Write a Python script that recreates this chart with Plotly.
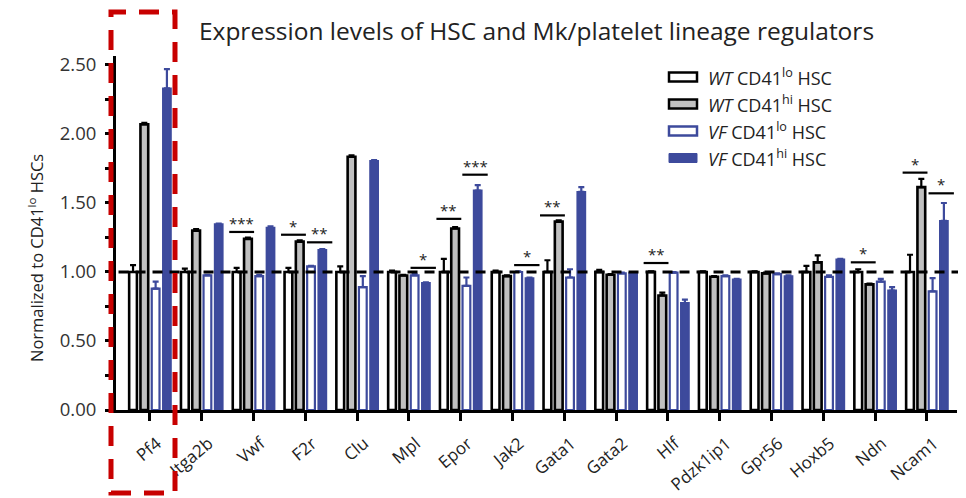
import plotly.graph_objects as go

# ---------------- data ----------------
genes = ["Pf4", "Itga2b", "Vwf", "F2r", "Clu", "Mpl", "Epor", "Jak2", "Gata1",
         "Gata2", "Hlf", "Pdzk1ip1", "Gpr56", "Hoxb5", "Ndn", "Ncam1"]

wt_lo = [1.00, 1.00, 1.00, 1.00, 1.00, 1.00, 1.00, 1.00, 1.00, 1.00, 1.00, 1.00, 1.00, 1.00, 1.00, 1.00]
wt_lo_err = [0.05, 0.025, 0.03, 0.03, 0.04, 0.01, 0.095, 0.01, 0.085, 0.015, 0.005, 0.005, 0.005, 0.045, 0.02, 0.125]

wt_hi = [2.07, 1.30, 1.24, 1.22, 1.835, 0.975, 1.315, 0.97, 1.365, 0.98, 0.83, 0.965, 0.99, 1.07, 0.91, 1.615]
wt_hi_err = [0.01, 0.01, 0.01, 0.01, 0.01, 0.005, 0.01, 0.005, 0.01, 0.005, 0.02, 0.005, 0.005, 0.05, 0.005, 0.06]

vf_lo = [0.88, 0.975, 0.97, 1.04, 0.89, 0.975, 0.90, 1.00, 0.96, 0.99, 0.995, 0.97, 0.985, 0.965, 0.93, 0.86]
vf_lo_err = [0.05, 0.005, 0.01, 0.005, 0.08, 0.01, 0.06, 0.005, 0.06, 0.005, 0.005, 0.005, 0.005, 0.01, 0.02, 0.095]

vf_hi = [2.33, 1.345, 1.32, 1.16, 1.805, 0.92, 1.59, 0.955, 1.58, 0.99, 0.775, 0.945, 0.97, 1.09, 0.865, 1.37]
vf_hi_err = [0.14, 0.005, 0.01, 0.005, 0.005, 0.005, 0.04, 0.005, 0.035, 0.005, 0.025, 0.005, 0.005, 0.005, 0.025, 0.13]

# significance brackets: (gene, pair, level, label)
sig_genes = ["Vwf", "F2r", "F2r", "Mpl", "Epor", "Epor", "Jak2", "Gata1", "Hlf", "Ndn", "Ncam1", "Ncam1"]
sig_pairs = ["WT", "WT", "VF", "VF", "WT", "VF", "VF", "WT", "WT", "WT", "WT", "VF"]
sig_levels = [1.29, 1.27, 1.215, 1.03, 1.385, 1.705, 1.05, 1.41, 1.065, 1.07, 1.72, 1.57]
sig_labels = ["***", "*", "**", "*", "**", "***", "*", "**", "**", "*", "*", "*"]

y_ticks = [0.0, 0.5, 1.0, 1.5, 2.0, 2.5]

# ---------------- styling ----------------
BLUE = "#3d4a9c"
GRAY = "#c0c0c0"
FONT = "Open Sans"
TXT = "#222222"

PAGE_W, PAGE_H = 966, 498
OFF = 8  # default page body margin; figure is drawn offset by this much
W, H = PAGE_W - OFF, PAGE_H - OFF
# plot-area edges in page pixels
L, R, T, B = 116, 957, 56, 410


def px(xp):
    return (xp - L) / (R - L)


def py(yp):
    return (B - yp) / (B - T)


xs = list(range(len(genes)))
centers = [-0.327, -0.109, 0.109, 0.327]
bw = 0.15

series = [
    (wt_lo, wt_lo_err, "white", "black", 2.6, "black"),
    (wt_hi, wt_hi_err, GRAY, "black", 2.6, "black"),
    (vf_lo, vf_lo_err, "white", BLUE, 2.2, BLUE),
    (vf_hi, vf_hi_err, BLUE, BLUE, 2.0, BLUE),
]

fig = go.Figure()
for k, (vals, errs, fill, edge, lw, ecol) in enumerate(series):
    fig.add_trace(go.Bar(
        x=xs, y=vals,
        offset=centers[k] - bw / 2, width=bw,
        marker=dict(color=fill, line=dict(color=edge, width=lw)),
        error_y=dict(type="data", symmetric=False, array=errs,
                     arrayminus=[0] * len(errs), color=ecol, thickness=2.2, width=3),
        showlegend=False,
    ))

shapes = []
annotations = []

# reference dashed line at 1.0
shapes.append(dict(type="line", xref="paper", yref="y", x0=0.003, x1=1.008, y0=1, y1=1,
                   line=dict(color="black", width=3, dash="10px,7px"), layer="above"))

# significance brackets
pair_span = {"WT": (-0.47, 0.01), "VF": (0.03, 0.52)}
for g, p, lvl, lab in zip(sig_genes, sig_pairs, sig_levels, sig_labels):
    i = genes.index(g)
    a, b = pair_span[p]
    shapes.append(dict(type="line", xref="x", yref="y", x0=i + a, x1=i + b, y0=lvl, y1=lvl,
                       line=dict(color="black", width=2.2)))
    annotations.append(dict(x=i + (a + b) / 2, y=lvl, xref="x", yref="y", text=lab,
                            showarrow=False, yanchor="bottom", yshift=-3,
                            font=dict(family=FONT, size=15, color=TXT)))

# red dashed highlight box
shapes.append(dict(type="rect", xref="paper", yref="paper",
                   x0=px(111), x1=px(175), y0=py(493), y1=py(12),
                   line=dict(color="#c80000", width=5, dash="20px,13px"),
                   fillcolor="rgba(0,0,0,0)", layer="above"))

# manual legend
leg_labels = ["<i>WT</i> CD41<sup>lo</sup> HSC", "<i>WT</i> CD41<sup>hi</sup> HSC",
              "<i>VF</i> CD41<sup>lo</sup> HSC", "<i>VF</i> CD41<sup>hi</sup> HSC"]
leg_y = [77, 104, 131, 158]
for k, (lab, yy) in enumerate(zip(leg_labels, leg_y)):
    vals, errs, fill, edge, lw, ecol = series[k]
    shapes.append(dict(type="rect", xref="paper", yref="paper",
                       x0=px(669), x1=px(697), y0=py(yy + 4.5), y1=py(yy - 4.5),
                       fillcolor=fill, line=dict(color=edge, width=2.5 if k < 3 else 1)))
    annotations.append(dict(x=px(706), y=py(yy), xref="paper", yref="paper", text=lab,
                            showarrow=False, xanchor="left", yanchor="middle",
                            font=dict(family=FONT, size=18, color=TXT)))

# y-axis title
annotations.append(dict(x=px(36), y=py(258), xref="paper", yref="paper",
                        text="Normalized to CD41<sup>lo</sup> HSCs", textangle=-90,
                        showarrow=False, xanchor="center", yanchor="middle",
                        font=dict(family=FONT, size=16.5, color=TXT)))

fig.update_layout(
    width=W, height=H,
    margin=dict(l=L - OFF, r=PAGE_W - R, t=T - OFF, b=PAGE_H - B, pad=0, autoexpand=False),
    paper_bgcolor="white", plot_bgcolor="white",
    title=dict(text="Expression levels of HSC and Mk/platelet lineage regulators",
               x=0.5, xref="paper", xanchor="center",
               y=1 - (31 - OFF) / H, yref="container", yanchor="middle", automargin=False,
               font=dict(family=FONT, size=24.5, color=TXT)),
    barmode="overlay",
    shapes=shapes,
    annotations=annotations,
    showlegend=False,
)

fig.update_xaxes(
    range=[-0.656, 15.58], tickvals=xs, ticktext=genes, tickangle=-40,
    showline=True, linecolor="black", linewidth=3,
    ticks="outside", ticklen=8, tickwidth=3, tickcolor="black",
    showgrid=False, zeroline=False, automargin=False,
    ticklabelshift=7, ticklabelstandoff=6,
    tickfont=dict(family=FONT, size=17, color=TXT),
)
fig.update_yaxes(
    range=[0, 2.565], tickvals=y_ticks, tickformat=".2f",
    showline=True, linecolor="black", linewidth=3,
    ticks="outside", ticklen=8, tickwidth=3, tickcolor="black",
    minor=dict(dtick=0.25, tick0=0, ticks="outside", ticklen=8, tickwidth=3, tickcolor="black"),
    showgrid=False, zeroline=False, automargin=False,
    ticklabelstandoff=5,
    tickfont=dict(family=FONT, size=18.5, color="#333333"),
)

fig.write_html("out.html")
